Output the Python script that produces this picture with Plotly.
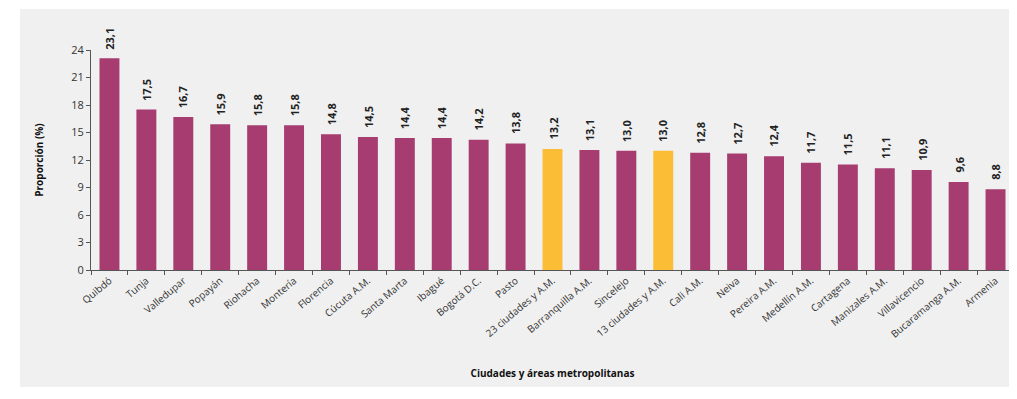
import plotly.graph_objects as go

cities = ["Quibdó", "Tunja", "Valledupar", "Popayán", "Riohacha", "Montería", "Florencia",
          "Cúcuta A.M.", "Santa Marta", "Ibagué", "Bogotá D.C.", "Pasto", "23 ciudades y A.M.",
          "Barranquilla A.M.", "Sincelejo", "13 ciudades y A.M.", "Cali A.M.", "Neiva",
          "Pereira A.M.", "Medellín A.M.", "Cartagena", "Manizales A.M.", "Villavicencio",
          "Bucaramanga A.M.", "Armenia"]
values = [23.1, 17.5, 16.7, 15.9, 15.8, 15.8, 14.8, 14.5, 14.4, 14.4, 14.2, 13.8, 13.2,
          13.1, 13.0, 13.0, 12.8, 12.7, 12.4, 11.7, 11.5, 11.1, 10.9, 9.6, 8.8]
highlight = ["23 ciudades y A.M.", "13 ciudades y A.M."]
y_ticks = [0, 3, 6, 9, 12, 15, 18, 21, 24]

MAROON = "#A63C6F"
GOLD = "#FABD35"
colors = [GOLD if c in highlight else MAROON for c in cities]
labels = [f"{v:.1f}".replace(".", ",") for v in values]

fig = go.Figure(go.Bar(
    x=cities, y=values, marker_color=colors, marker_line_width=0,
    cliponaxis=False, width=0.54, hoverinfo="x+y",
))

for c, v, t in zip(cities, values, labels):
    fig.add_annotation(x=c, y=v, text=f"<b>{t}</b>", textangle=-90, showarrow=False,
                       yanchor="bottom", xanchor="center", yshift=7,
                       font=dict(family="Open Sans", size=11, color="#222222"))

fig.add_shape(type="rect", xref="paper", yref="paper", layer="below",
              x0=-0.077, x1=1.02, y0=-0.532, y1=1.186,
              fillcolor="#F0F0F0", line_width=0)

fig.update_layout(
    width=1009, height=391,
    margin=dict(l=83, r=3, t=42, b=129),
    paper_bgcolor="white", plot_bgcolor="rgba(0,0,0,0)",
    showlegend=False,
    font=dict(family="Open Sans", color="#333333"),
    xaxis=dict(
        tickangle=-40, tickfont=dict(size=10, color="#333333"),
        showline=True, linecolor="#555555", linewidth=1,
        ticks="outside", ticklen=4, tickcolor="#555555", tickson="boundaries",
        title=dict(text="<b>Ciudades y áreas metropolitanas</b>", font=dict(size=10, color="#111111"),
                   standoff=30),
    ),
    yaxis=dict(
        range=[0, 24], tickvals=y_ticks, showgrid=False, zeroline=False,
        tickfont=dict(size=11, color="#333333"),
        showline=True, linecolor="#555555", linewidth=1,
        ticks="outside", ticklen=4, tickcolor="#555555",
        title=dict(text="<b>Proporción (%)</b>", font=dict(size=10, color="#111111"), standoff=25),
    ),
)

fig.write_html("out.html")
